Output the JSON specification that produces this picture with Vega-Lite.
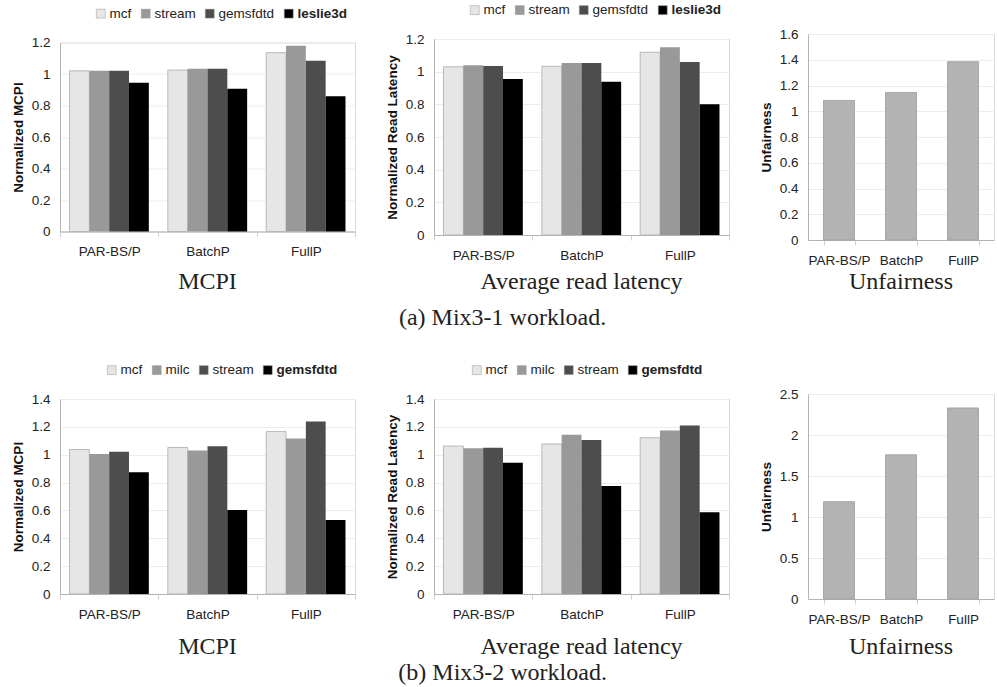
{
  "$schema": "https://vega.github.io/schema/vega-lite/v6.json",
  "padding": {"left": 10, "top": 2, "right": 0, "bottom": 0},
  "background": "white",
  "datasets": {
    "mix1": [
      {"config": "PAR-BS/P", "app": "mcf", "mcpi": 1.02, "latency": 1.03},
      {"config": "PAR-BS/P", "app": "stream", "mcpi": 1.02, "latency": 1.039},
      {"config": "PAR-BS/P", "app": "gemsfdtd", "mcpi": 1.02, "latency": 1.035},
      {"config": "PAR-BS/P", "app": "leslie3d", "mcpi": 0.945, "latency": 0.955},
      {"config": "BatchP", "app": "mcf", "mcpi": 1.025, "latency": 1.033},
      {"config": "BatchP", "app": "stream", "mcpi": 1.034, "latency": 1.053},
      {"config": "BatchP", "app": "gemsfdtd", "mcpi": 1.034, "latency": 1.053},
      {"config": "BatchP", "app": "leslie3d", "mcpi": 0.907, "latency": 0.939},
      {"config": "FullP", "app": "mcf", "mcpi": 1.135, "latency": 1.119},
      {"config": "FullP", "app": "stream", "mcpi": 1.179, "latency": 1.149},
      {"config": "FullP", "app": "gemsfdtd", "mcpi": 1.084, "latency": 1.059},
      {"config": "FullP", "app": "leslie3d", "mcpi": 0.859, "latency": 0.8}
    ],
    "mix2": [
      {"config": "PAR-BS/P", "app": "mcf", "mcpi": 1.037, "latency": 1.062},
      {"config": "PAR-BS/P", "app": "milc", "mcpi": 1.006, "latency": 1.046},
      {"config": "PAR-BS/P", "app": "stream", "mcpi": 1.021, "latency": 1.05},
      {"config": "PAR-BS/P", "app": "gemsfdtd", "mcpi": 0.875, "latency": 0.942},
      {"config": "BatchP", "app": "mcf", "mcpi": 1.052, "latency": 1.077},
      {"config": "BatchP", "app": "milc", "mcpi": 1.03, "latency": 1.144},
      {"config": "BatchP", "app": "stream", "mcpi": 1.061, "latency": 1.106},
      {"config": "BatchP", "app": "gemsfdtd", "mcpi": 0.603, "latency": 0.775},
      {"config": "FullP", "app": "mcf", "mcpi": 1.166, "latency": 1.122},
      {"config": "FullP", "app": "milc", "mcpi": 1.116, "latency": 1.173},
      {"config": "FullP", "app": "stream", "mcpi": 1.238, "latency": 1.209},
      {"config": "FullP", "app": "gemsfdtd", "mcpi": 0.532, "latency": 0.587}
    ],
    "unf1": [
      {"config": "PAR-BS/P", "unfairness": 1.084},
      {"config": "BatchP", "unfairness": 1.146},
      {"config": "FullP", "unfairness": 1.385}
    ],
    "unf2": [
      {"config": "PAR-BS/P", "unfairness": 1.187},
      {"config": "BatchP", "unfairness": 1.759},
      {"config": "FullP", "unfairness": 2.33}
    ]
  },
  "config": {
    "font": "Liberation Sans",
    "view": {"stroke": "#d9d9d9"},
    "axis": {
      "labelFont": "Liberation Sans", "labelFontSize": 13.5, "labelColor": "#222",
      "titleFont": "Liberation Sans", "titleFontSize": 13.5, "titleFontWeight": "bold", "titleColor": "#111",
      "gridColor": "#ececec", "domainColor": "#b3b3b3", "tickColor": "#d0d0d0"
    },
    "axisY": {"ticks": false, "labelPadding": 10, "titlePadding": 6},
    "axisX": {"grid": false, "tickBand": "extent", "tickSize": 5, "labelPadding": 8, "labelAngle": 0, "title": null},
    "legend": {
      "orient": "none", "direction": "horizontal", "title": null, "legendY": -36,
      "symbolType": "square", "symbolSize": 80, "symbolStrokeWidth": 0.5, "symbolStrokeColor": "#999",
      "labelFontSize": 13.5, "labelFont": "Liberation Sans", "labelColor": "#222", "labelOffset": 2,
      "columnPadding": 7
    },
    "title": {"font": "Liberation Serif", "fontSize": 24, "fontWeight": "normal", "color": "#222"}
  },
  "resolve": {"scale": {"color": "independent", "xOffset": "independent"}},
  "spacing": 32,
  "vconcat": [
    {
      "title": {"text": "(a) Mix3-1 workload.", "orient": "bottom", "anchor": "middle", "offset": 11},
      "bounds": "flush",
      "center": true,
      "spacing": 79,
      "resolve": {"scale": {"color": "independent", "xOffset": "independent"}},
      "hconcat": [
        {
          "width": 295, "height": 189,
          "data": {"name": "mix1"},
          "title": {"text": "MCPI", "orient": "bottom", "offset": 12},
          "mark": {"type": "bar"},
          "encoding": {
            "x": {"field": "config", "type": "nominal", "sort": ["PAR-BS/P", "BatchP", "FullP"], "scale": {"paddingInner": 0, "paddingOuter": 0}},
            "xOffset": {"field": "app", "type": "nominal", "scale": {"domain": ["mcf", "stream", "gemsfdtd", "leslie3d"], "paddingInner": 0, "paddingOuter": 0.48}},
            "y": {"field": "mcpi", "type": "quantitative", "scale": {"domain": [0, 1.2]}, "axis": {"title": "Normalized MCPI", "values": [0, 0.2, 0.4, 0.6, 0.8, 1, 1.2], "format": "~g"}},
            "color": {"field": "app", "type": "nominal", "scale": {"domain": ["mcf", "stream", "gemsfdtd", "leslie3d"], "range": ["#e6e6e6", "#999999", "#4d4d4d", "#000000"]}, "legend": {"legendX": 34, "labelFontWeight": {"expr": "datum.label == 'leslie3d' ? 'bold' : 'normal'"}}},
            "stroke": {"condition": {"test": "datum.app == 'mcf'", "value": "#b8b8b8"}, "value": null}
          }
        },
        {
          "width": 295, "height": 196,
          "data": {"name": "mix1"},
          "title": {"text": "Average read latency", "orient": "bottom", "offset": 8},
          "mark": {"type": "bar"},
          "encoding": {
            "x": {"field": "config", "type": "nominal", "sort": ["PAR-BS/P", "BatchP", "FullP"], "scale": {"paddingInner": 0, "paddingOuter": 0}},
            "xOffset": {"field": "app", "type": "nominal", "scale": {"domain": ["mcf", "stream", "gemsfdtd", "leslie3d"], "paddingInner": 0, "paddingOuter": 0.48}},
            "y": {"field": "latency", "type": "quantitative", "scale": {"domain": [0, 1.2]}, "axis": {"title": "Normalized Read Latency", "values": [0, 0.2, 0.4, 0.6, 0.8, 1, 1.2], "format": "~g"}},
            "color": {"field": "app", "type": "nominal", "scale": {"domain": ["mcf", "stream", "gemsfdtd", "leslie3d"], "range": ["#e6e6e6", "#999999", "#4d4d4d", "#000000"]}, "legend": {"legendX": 34, "labelFontWeight": {"expr": "datum.label == 'leslie3d' ? 'bold' : 'normal'"}}},
            "stroke": {"condition": {"test": "datum.app == 'mcf'", "value": "#b8b8b8"}, "value": null}
          }
        },
        {
          "width": 186, "height": 206,
          "data": {"name": "unf1"},
          "title": {"text": "Unfairness", "orient": "bottom", "offset": 3},
          "mark": {"type": "bar", "color": "#b3b3b3", "stroke": "#9c9c9c", "strokeWidth": 0.8},
          "encoding": {
            "x": {"field": "config", "type": "nominal", "sort": ["PAR-BS/P", "BatchP", "FullP"], "scale": {"paddingInner": 0.5, "paddingOuter": 0.25}},
            "y": {"field": "unfairness", "type": "quantitative", "scale": {"domain": [0, 1.6]}, "axis": {"title": "Unfairness", "values": [0, 0.2, 0.4, 0.6, 0.8, 1, 1.2, 1.4, 1.6], "format": "~g"}}
          }
        }
      ]
    },
    {
      "title": {"text": "(b) Mix3-2 workload.", "orient": "bottom", "anchor": "middle", "offset": 2},
      "bounds": "flush",
      "center": true,
      "spacing": 79,
      "resolve": {"scale": {"color": "independent", "xOffset": "independent"}},
      "hconcat": [
        {
          "width": 295, "height": 195,
          "data": {"name": "mix2"},
          "title": {"text": "MCPI", "orient": "bottom", "offset": 14},
          "mark": {"type": "bar"},
          "encoding": {
            "x": {"field": "config", "type": "nominal", "sort": ["PAR-BS/P", "BatchP", "FullP"], "scale": {"paddingInner": 0, "paddingOuter": 0}},
            "xOffset": {"field": "app", "type": "nominal", "scale": {"domain": ["mcf", "milc", "stream", "gemsfdtd"], "paddingInner": 0, "paddingOuter": 0.48}},
            "y": {"field": "mcpi", "type": "quantitative", "scale": {"domain": [0, 1.4]}, "axis": {"title": "Normalized MCPI", "values": [0, 0.2, 0.4, 0.6, 0.8, 1, 1.2, 1.4], "format": "~g"}},
            "color": {"field": "app", "type": "nominal", "scale": {"domain": ["mcf", "milc", "stream", "gemsfdtd"], "range": ["#e6e6e6", "#999999", "#4d4d4d", "#000000"]}, "legend": {"legendX": 45, "labelFontWeight": {"expr": "datum.label == 'gemsfdtd' ? 'bold' : 'normal'"}}},
            "stroke": {"condition": {"test": "datum.app == 'mcf'", "value": "#b8b8b8"}, "value": null}
          }
        },
        {
          "width": 295, "height": 195,
          "data": {"name": "mix2"},
          "title": {"text": "Average read latency", "orient": "bottom", "offset": 14},
          "mark": {"type": "bar"},
          "encoding": {
            "x": {"field": "config", "type": "nominal", "sort": ["PAR-BS/P", "BatchP", "FullP"], "scale": {"paddingInner": 0, "paddingOuter": 0}},
            "xOffset": {"field": "app", "type": "nominal", "scale": {"domain": ["mcf", "milc", "stream", "gemsfdtd"], "paddingInner": 0, "paddingOuter": 0.48}},
            "y": {"field": "latency", "type": "quantitative", "scale": {"domain": [0, 1.4]}, "axis": {"title": "Normalized Read Latency", "values": [0, 0.2, 0.4, 0.6, 0.8, 1, 1.2, 1.4], "format": "~g"}},
            "color": {"field": "app", "type": "nominal", "scale": {"domain": ["mcf", "milc", "stream", "gemsfdtd"], "range": ["#e6e6e6", "#999999", "#4d4d4d", "#000000"]}, "legend": {"legendX": 36, "labelFontWeight": {"expr": "datum.label == 'gemsfdtd' ? 'bold' : 'normal'"}}},
            "stroke": {"condition": {"test": "datum.app == 'mcf'", "value": "#b8b8b8"}, "value": null}
          }
        },
        {
          "width": 186, "height": 205,
          "data": {"name": "unf2"},
          "title": {"text": "Unfairness", "orient": "bottom", "offset": 9},
          "mark": {"type": "bar", "color": "#b3b3b3", "stroke": "#9c9c9c", "strokeWidth": 0.8},
          "encoding": {
            "x": {"field": "config", "type": "nominal", "sort": ["PAR-BS/P", "BatchP", "FullP"], "scale": {"paddingInner": 0.5, "paddingOuter": 0.25}},
            "y": {"field": "unfairness", "type": "quantitative", "scale": {"domain": [0, 2.5]}, "axis": {"title": "Unfairness", "values": [0, 0.5, 1, 1.5, 2, 2.5], "format": "~g"}}
          }
        }
      ]
    }
  ]
}
